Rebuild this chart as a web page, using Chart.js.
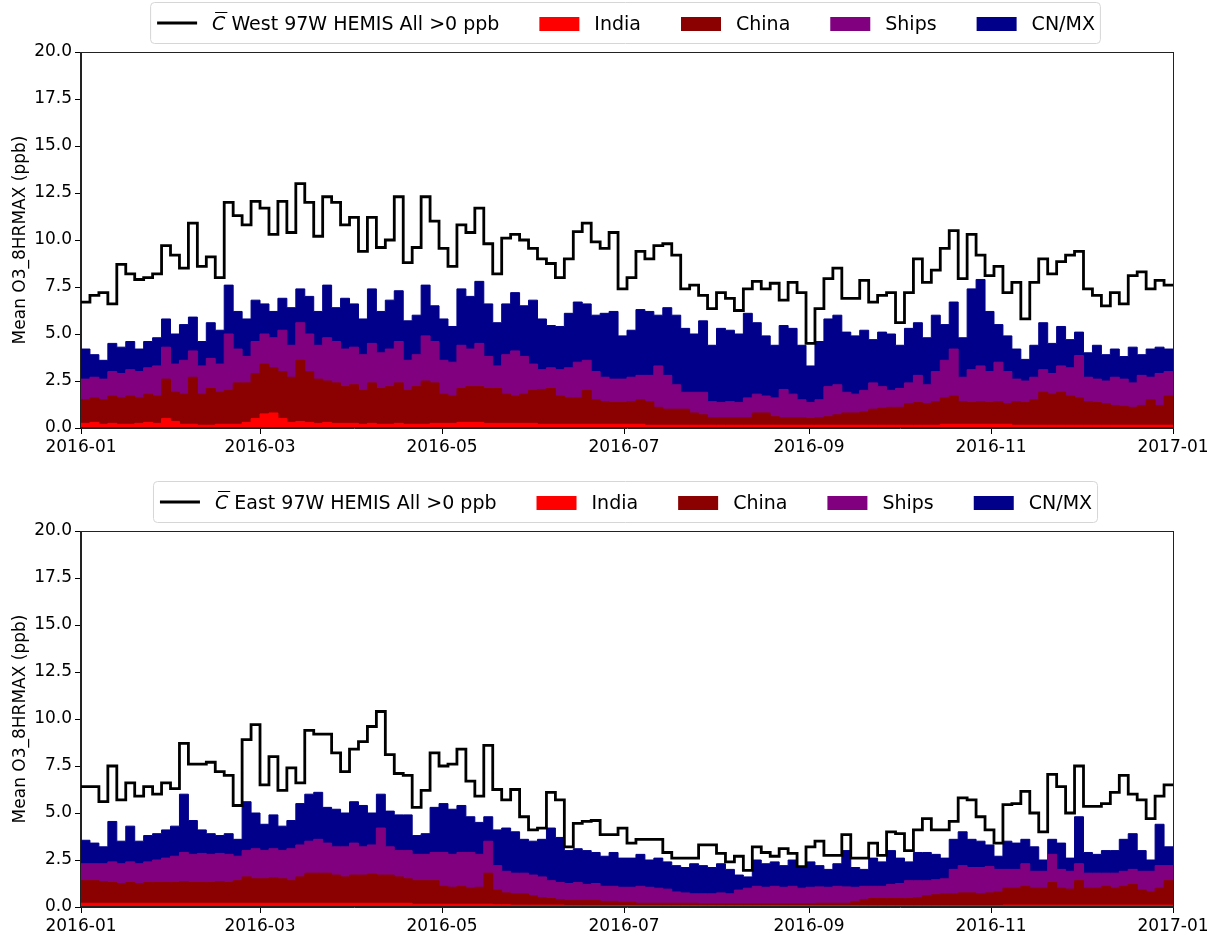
<!DOCTYPE html>
<html><head><meta charset="utf-8">
<script src="https://cdn.jsdelivr.net/npm/chart.js@4.4.1/dist/chart.umd.min.js"></script>
<style>
html,body{margin:0;padding:0;background:#fff;}
#wrap{position:relative;width:1215px;height:935px;overflow:hidden;}
canvas{position:absolute;left:0;}
#c1{top:0;} #c2{top:467px;}
</style></head><body>
<div id="wrap"><canvas id="c1" width="1215" height="467"></canvas><canvas id="c2" width="1215" height="468"></canvas></div>
<script>
// ---- axis definitions ----
const STEP_DAYS = 3;      // one value every 3 days, from 2016-01-01
const X_MAX = 366;        // 2017-01-01 (days since 2016-01-01)
const xTickDays   = [0, 60, 121, 182, 244, 305, 366];
const xTickLabels = ['2016-01','2016-03','2016-05','2016-07','2016-09','2016-11','2017-01'];
const yTicks = [0, 2.5, 5, 7.5, 10, 12.5, 15, 17.5, 20];
const yTitle = 'Mean O3_8HRMAX (ppb)';
const sourceLabels = ['India', 'China', 'Ships', 'CN/MX'];
const labelWest = 'C\u0304 West 97W HEMIS All >0 ppb';
const labelEast = 'C\u0304 East 97W HEMIS All >0 ppb';

// ---- West panel ----
const totalW = [6.7,7.05,7.2,6.6,8.7,8.2,7.9,8.0,8.2,9.7,
 9.2,8.5,10.9,8.6,9.1,8.0,12.0,11.3,10.8,12.05,
 11.7,10.3,12.05,10.4,13.0,12.0,10.2,12.3,12.0,10.8,
 11.2,9.4,11.2,9.6,10.0,12.3,8.8,9.6,12.3,11.0,
 9.55,8.6,10.8,10.4,11.7,9.8,8.2,10.1,10.3,10.0,
 9.55,9.0,8.75,8.0,9.0,10.45,10.9,9.9,9.55,10.4,
 7.4,8.0,9.4,9.0,9.7,9.8,9.2,7.4,7.6,7.05,
 6.35,7.2,6.9,6.25,7.4,7.8,7.4,7.7,6.8,7.75,
 7.2,4.5,6.35,7.95,8.5,6.9,6.9,7.85,6.7,7.05,
 7.2,5.6,7.2,9.0,7.75,8.4,9.55,10.5,7.95,10.3,
 9.2,8.1,8.6,7.2,7.75,5.8,7.75,9.0,8.2,8.85,
 9.2,9.4,7.4,7.05,6.5,7.2,6.6,8.1,8.3,7.4,
 7.85,7.6];
const indiaW = [.25,.3,.2,.25,.2,.2,.25,.3,.25,.5,
 .35,.2,.2,.15,.15,.2,.2,.2,.3,.5,
 .75,.8,.5,.3,.35,.3,.25,.3,.25,.25,
 .25,.2,.25,.2,.2,.25,.2,.2,.2,.25,
 .25,.25,.3,.3,.3,.25,.25,.25,.25,.25,
 .25,.2,.2,.2,.2,.2,.2,.2,.2,.2,
 .2,.2,.2,.15,.15,.15,.15,.15,.15,.15,
 .15,.15,.15,.15,.15,.15,.15,.15,.15,.15,
 .15,.15,.15,.15,.15,.15,.15,.15,.15,.15,
 .15,.15,.15,.15,.15,.15,.2,.2,.2,.2,
 .2,.2,.2,.2,.15,.15,.15,.15,.15,.15,
 .15,.15,.15,.15,.15,.15,.15,.15,.15,.15,
 .15,.15];
const chinaW = [1.25,1.3,1.3,1.45,1.4,1.5,1.35,1.5,1.45,2.1,
 1.55,1.6,2.5,1.65,1.95,1.7,1.8,2.2,2.1,2.4,
 2.65,2.4,2.5,2.4,3.25,2.7,2.35,2.2,2.15,1.95,
 2.05,1.8,2.15,1.9,2.0,2.15,1.8,2.0,2.3,2.15,
 1.55,1.45,1.8,1.9,1.9,1.85,1.85,1.55,1.45,1.55,
 1.75,1.85,1.9,1.5,1.4,1.4,1.8,1.3,1.2,1.15,
 1.15,1.2,1.3,1.25,.95,.85,.85,.85,.65,.55,
 .4,.4,.4,.4,.4,.65,.65,.45,.4,.4,
 .4,.35,.4,.45,.55,.65,.65,.7,.85,.9,
 .95,.95,1.15,1.2,1.15,1.25,1.4,1.5,1.2,1.15,
 1.2,1.15,1.2,1.1,1.25,1.2,1.35,1.75,1.65,1.75,
 1.55,1.45,1.25,1.2,1.15,1.05,1.0,.95,1.05,1.35,
 1.05,1.55];
const shipsW = [1.1,1.1,1.1,1.3,1.3,1.4,1.4,1.4,1.6,1.7,
 1.5,1.8,1.4,1.5,1.6,1.5,3.0,1.8,1.4,1.7,
 1.6,1.6,2.2,1.7,2.0,2.0,1.8,2.3,2.2,2.0,
 2.0,1.9,2.1,1.9,2.0,2.2,1.6,1.7,2.4,2.2,
 1.8,1.8,2.3,2.0,2.3,1.7,1.2,2.1,2.4,2.0,
 1.4,1.05,1.1,1.4,1.6,1.9,1.6,1.5,1.3,1.25,
 1.25,1.3,1.3,1.4,2.2,1.8,1.3,.9,1.1,1.2,
 .85,.8,.85,.8,1.05,1.0,.9,1.0,1.5,1.25,
 .95,.85,.95,1.6,1.6,1.1,1.0,1.15,1.4,1.15,
 .9,1.0,1.1,1.45,1.0,1.6,2.0,2.5,1.3,1.75,
 1.9,1.65,2.1,1.7,1.2,1.15,1.2,1.2,1.1,1.4,
 1.5,2.25,1.3,1.25,1.2,1.5,1.45,1.3,1.6,1.2,
 1.7,1.3];
const cnmxW = [1.6,1.2,1.0,1.5,1.4,1.5,1.2,1.4,1.5,1.5,
 1.6,1.9,1.8,1.3,1.9,1.8,2.6,2.0,2.0,2.2,
 1.6,1.4,1.7,2.0,1.8,2.0,1.8,2.8,1.8,2.7,
 2.3,1.9,2.9,2.2,2.6,2.7,2.1,2.1,2.7,1.9,
 2.2,1.9,3.0,2.8,3.3,2.8,2.3,2.7,3.1,2.7,
 3.4,2.7,2.25,2.3,2.9,3.2,3.0,3.0,3.4,3.6,
 2.3,2.5,3.5,3.4,2.7,3.6,3.7,3.4,3.1,3.8,
 3.0,3.95,3.8,3.65,4.5,3.8,3.2,2.8,3.4,3.5,
 2.9,1.95,3.1,3.6,3.7,3.2,3.1,3.2,2.3,2.9,
 3.0,2.3,2.9,2.8,2.5,3.0,1.9,2.5,2.1,4.3,
 4.6,3.2,2.0,1.9,1.6,1.15,1.7,2.5,1.6,2.1,
 1.5,1.25,1.3,1.8,1.4,1.5,1.2,1.9,1.1,1.5,
 1.4,1.2];

// ---- East panel ----
const totalE = [6.4,6.4,5.6,7.5,5.7,6.6,5.9,6.4,6.0,6.6,
 6.3,8.7,7.6,7.6,7.7,7.2,7.0,5.4,8.9,9.7,
 6.5,8.0,6.2,7.4,6.6,9.4,9.2,9.2,8.2,7.2,
 8.4,8.8,9.6,10.4,8.1,7.1,7.0,5.3,6.2,8.2,
 7.5,7.6,8.4,6.7,5.9,8.6,6.25,5.7,6.25,4.8,
 4.1,4.2,6.1,5.7,3.2,4.45,4.55,4.6,3.85,3.85,
 4.2,3.4,3.6,3.6,3.6,2.9,2.6,2.6,2.6,3.3,
 3.3,2.85,2.4,2.7,1.95,3.2,2.9,2.7,3.1,2.85,
 2.15,3.2,3.5,2.75,2.75,3.85,2.6,2.6,3.4,2.75,
 4.0,3.9,3.0,4.1,4.7,4.1,4.1,4.55,5.8,5.7,
 4.8,4.1,3.4,5.45,5.5,6.15,5.0,4.0,7.05,6.4,
 5.0,7.5,5.35,5.35,5.5,6.1,7.0,6.0,5.7,4.7,
 5.9,6.5];
const indiaE = [.2,.2,.2,.2,.2,.2,.2,.2,.2,.2,
 .2,.2,.2,.2,.2,.2,.2,.2,.2,.2,
 .2,.2,.2,.2,.2,.2,.2,.2,.2,.2,
 .2,.2,.2,.2,.2,.2,.2,.15,.15,.15,
 .15,.15,.15,.15,.15,.15,.12,.12,.1,.1,
 .1,.1,.1,.1,.08,.08,.08,.08,.08,.08,
 .08,.08,.08,.08,.08,.08,.08,.08,.08,.08,
 .08,.08,.08,.08,.08,.08,.08,.08,.08,.08,
 .08,.08,.08,.08,.08,.08,.08,.08,.08,.08,
 .08,.08,.08,.08,.08,.08,.08,.08,.08,.08,
 .08,.08,.08,.1,.1,.1,.1,.1,.1,.1,
 .1,.1,.1,.1,.1,.1,.1,.1,.1,.1,
 .1,.1];
const chinaE = [1.2,1.2,1.15,1.1,1.05,1.1,1.05,1.1,1.1,1.1,
 1.1,1.15,1.1,1.1,1.1,1.15,1.1,1.2,1.4,1.3,
 1.3,1.35,1.3,1.2,1.4,1.6,1.6,1.6,1.5,1.4,
 1.5,1.5,1.55,1.5,1.5,1.4,1.3,1.25,1.25,1.25,
 .95,.9,.95,.85,.9,1.65,.78,.63,.6,.6,
 .5,.4,.35,.3,.27,.27,.27,.27,.22,.22,
 .17,.17,.12,.12,.12,.12,.12,.12,.12,.1,
 .1,.1,.1,.1,.1,.1,.1,.1,.1,.1,
 .1,.1,.12,.12,.12,.12,.22,.32,.37,.37,
 .37,.37,.37,.42,.52,.57,.62,.62,.67,.67,
 .62,.67,.72,.9,.9,1.0,.9,.9,1.2,.9,
 .85,1.3,.9,.9,1.0,.9,1.0,1.1,.8,.7,
 .9,1.3];
const shipsE = [.9,.9,.95,1.1,1.05,1.1,1.05,1.1,1.2,1.3,
 1.4,1.55,1.5,1.55,1.5,1.5,1.5,1.3,1.4,1.6,
 1.5,1.55,1.5,1.7,1.7,1.7,1.8,1.6,1.5,1.6,
 1.7,1.5,1.55,2.5,1.5,1.4,1.5,1.4,1.4,1.5,
 1.8,1.75,1.8,1.9,1.75,1.7,1.3,1.15,1.1,1.1,
 1.1,1.1,.95,.9,.9,.95,.85,.9,.8,.8,
 .8,.8,.9,.85,.8,.75,.6,.55,.5,.52,
 .52,.57,.52,.72,.82,.92,.87,.92,.87,.92,
 .82,.87,.87,.85,.9,.87,.75,.7,.65,.65,
 .75,.8,.95,.9,.8,.8,.8,1.3,1.45,1.35,
 1.4,1.4,1.2,1.0,1.0,1.2,.9,.9,1.5,1.0,
 .95,.9,.8,.8,.7,.8,.8,.8,1.0,1.1,
 1.2,.8];
const cnmxE = [1.25,1.1,.9,2.15,1.2,1.9,1.2,1.4,1.4,1.5,
 1.6,3.1,1.8,1.25,1.1,.95,1.1,.9,2.6,1.9,
 1.4,1.8,1.3,1.5,2.2,2.5,2.5,1.9,2.0,1.8,
 2.2,2.2,1.7,1.8,1.9,1.9,1.9,1.0,1.1,2.4,
 2.6,2.4,2.5,1.9,1.7,1.3,1.9,2.3,2.2,1.8,
 1.8,2.0,2.8,2.4,1.75,1.8,1.8,1.65,1.6,1.8,
 1.55,1.55,1.7,1.45,1.6,1.45,1.4,1.35,1.6,1.5,
 1.4,1.55,1.3,.8,.6,1.4,1.25,1.3,1.15,1.4,
 1.1,1.35,1.13,.95,1.2,1.93,1.05,.9,1.5,1.3,
 1.8,1.35,1.0,1.5,1.5,1.35,1.1,1.6,1.8,1.5,
 1.4,1.15,.7,1.5,1.4,1.3,1.3,.6,.8,1.4,
 .7,2.5,1.1,1.0,1.2,1.2,1.7,1.9,1.1,.6,
 2.2,1.0];

// ---- styling ----
const sourceColors = ['#ff0000', '#8b0000', '#800080', '#00008b'];
const FONT = "'DejaVu Sans', 'Liberation Sans', sans-serif";
Chart.defaults.font.family = FONT;
Chart.defaults.color = '#000';

[totalW, indiaW, chinaW, shipsW, cnmxW, totalE, indiaE, chinaE, shipsE, cnmxE].forEach((a, k) => {
  if (a.length !== totalW.length) console.error('array ' + k + ' has length ' + a.length);
});

const days = totalW.map((_, i) => i * STEP_DAYS);
function toPoints(vals) {
  const p = vals.map((v, i) => ({x: days[i], y: v}));
  p.push({x: X_MAX, y: vals[vals.length - 1]});
  return p;
}
function cumulative(parts) {
  let run = parts[0].map(() => 0);
  return parts.map(arr => { run = run.map((r, i) => r + arr[i]); return run.slice(); });
}

const legendPlugin = {
  id: 'mplLegend',
  afterDraw(chart, args, opts) {
    const ctx = chart.ctx;
    const ds = chart.data.datasets;
    const fs = 19, handleW = 40, gapT = 15, gapI = 40;
    const fN = fs + 'px ' + FONT, fI = 'italic ' + fs + 'px ' + FONT;
    ctx.save();
    const items = ds.map(d => {
      let w, math = false, rest = d.label;
      if (d.label.startsWith('C\u0304')) {
        math = true; rest = d.label.slice(2);
        ctx.font = fI; const wc = ctx.measureText('C').width;
        ctx.font = fN; w = wc + ctx.measureText(rest).width;
        return {d, w, math, rest, wc};
      }
      ctx.font = fN; w = ctx.measureText(rest).width;
      return {d, w, math, rest};
    });
    const total = items.reduce((s, it) => s + handleW + gapT + it.w, 0) + gapI * (items.length - 1);
    let x = opts.centerX - total / 2;
    const y = opts.y;
    ctx.beginPath();
    ctx.roundRect(x - 6.5, y - 20.5, total + 12, 41, 4);
    ctx.fillStyle = 'rgba(255,255,255,0.8)';
    ctx.fill();
    ctx.strokeStyle = '#d6d6d6'; ctx.lineWidth = 1; ctx.stroke();
    items.forEach(it => {
      const d = it.d;
      if (d.fill === false) {
        ctx.beginPath(); ctx.moveTo(x, y); ctx.lineTo(x + handleW, y);
        ctx.strokeStyle = d.borderColor; ctx.lineWidth = 2.8; ctx.stroke();
      } else {
        ctx.fillStyle = d.backgroundColor;
        ctx.fillRect(x, y - 6, handleW, 14);
      }
      let tx = x + handleW + gapT;
      const base = y + 7;
      ctx.fillStyle = '#000'; ctx.textBaseline = 'alphabetic'; ctx.textAlign = 'left';
      if (it.math) {
        ctx.font = fI; ctx.fillText('C', tx, base);
        ctx.beginPath(); ctx.moveTo(tx + 3, base - 17.5); ctx.lineTo(tx + it.wc + 2, base - 17.5);
        ctx.strokeStyle = '#000'; ctx.lineWidth = 1; ctx.stroke();
        tx += it.wc;
      }
      ctx.font = fN; ctx.fillText(it.rest, tx, base);
      x += handleW + gapT + it.w + gapI;
    });
    ctx.restore();
  }
};

const framePlugin = {
  id: 'frame',
  afterDatasetsDraw(chart) {
    const a = chart.chartArea, ctx = chart.ctx;
    ctx.save();
    ctx.strokeStyle = '#222'; ctx.lineWidth = 1;
    ctx.strokeRect(Math.round(a.left) - 0.5, Math.round(a.top) + 0.5, Math.round(a.right - a.left) + 1, Math.round(a.bottom - a.top) - 1);
    ctx.restore();
  }
};

function makePanel(id, label, total, parts, geo) {
  const cum = cumulative(parts);
  const datasets = [{
    label, data: toPoints(total), borderColor: '#000', backgroundColor: '#000',
    borderWidth: 2.8, fill: false, stepped: true, pointRadius: 0, borderJoinStyle: 'miter'
  }];
  sourceLabels.forEach((s, k) => {
    datasets.push({
      label: s, data: toPoints(cum[k]), borderColor: sourceColors[k], backgroundColor: sourceColors[k],
      borderWidth: 1, fill: 'origin', stepped: true, pointRadius: 0
    });
  });
  const canvas = document.getElementById(id);
  const AX_H = 26, Y_W = 81;
  new Chart(canvas, {
    type: 'line',
    data: {datasets},
    plugins: [legendPlugin, framePlugin],
    options: {
      responsive: false, animation: false, devicePixelRatio: 1, events: [],
      layout: {padding: {left: 0, right: 42, top: geo.top, bottom: canvas.height - geo.bottom - AX_H}},
      plugins: {
        legend: {display: false}, tooltip: {enabled: false},
        mplLegend: {centerX: 626, y: geo.legendY}
      },
      scales: {
        x: {
          type: 'linear', min: 0, max: X_MAX,
          afterBuildTicks: s => { s.ticks = xTickDays.map(v => ({value: v})); },
          afterFit: s => { s.height = AX_H; },
          ticks: {autoSkip: false, maxRotation: 0, minRotation: 0, padding: 3, color: '#000', font: {size: 17},
                  callback: v => { const k = xTickDays.indexOf(v); return k >= 0 ? xTickLabels[k] : ''; }},
          grid: {display: true, drawOnChartArea: false, drawTicks: true, tickLength: 6, color: '#000', lineWidth: 1},
          border: {display: true, color: '#222', width: 1}
        },
        y: {
          type: 'linear', min: 0, max: 20,
          afterBuildTicks: s => { s.ticks = yTicks.map(v => ({value: v})); },
          afterFit: s => { s.width = Y_W; },
          ticks: {padding: 3, color: '#000', font: {size: 17}, callback: v => Number(v).toFixed(1)},
          grid: {display: true, drawOnChartArea: false, drawTicks: true, tickLength: 6, color: '#000', lineWidth: 1},
          border: {display: true, color: '#222', width: 1},
          title: {display: true, text: yTitle, color: '#000', font: {size: 17}, padding: {top: 10, bottom: 0}}
        }
      }
    }
  });
}

makePanel('c1', labelWest, totalW, [indiaW, chinaW, shipsW, cnmxW], {top: 52, bottom: 428, legendY: 23});
makePanel('c2', labelEast, totalE, [indiaE, chinaE, shipsE, cnmxE], {top: 64, bottom: 440, legendY: 35});
</script>
</body></html>
